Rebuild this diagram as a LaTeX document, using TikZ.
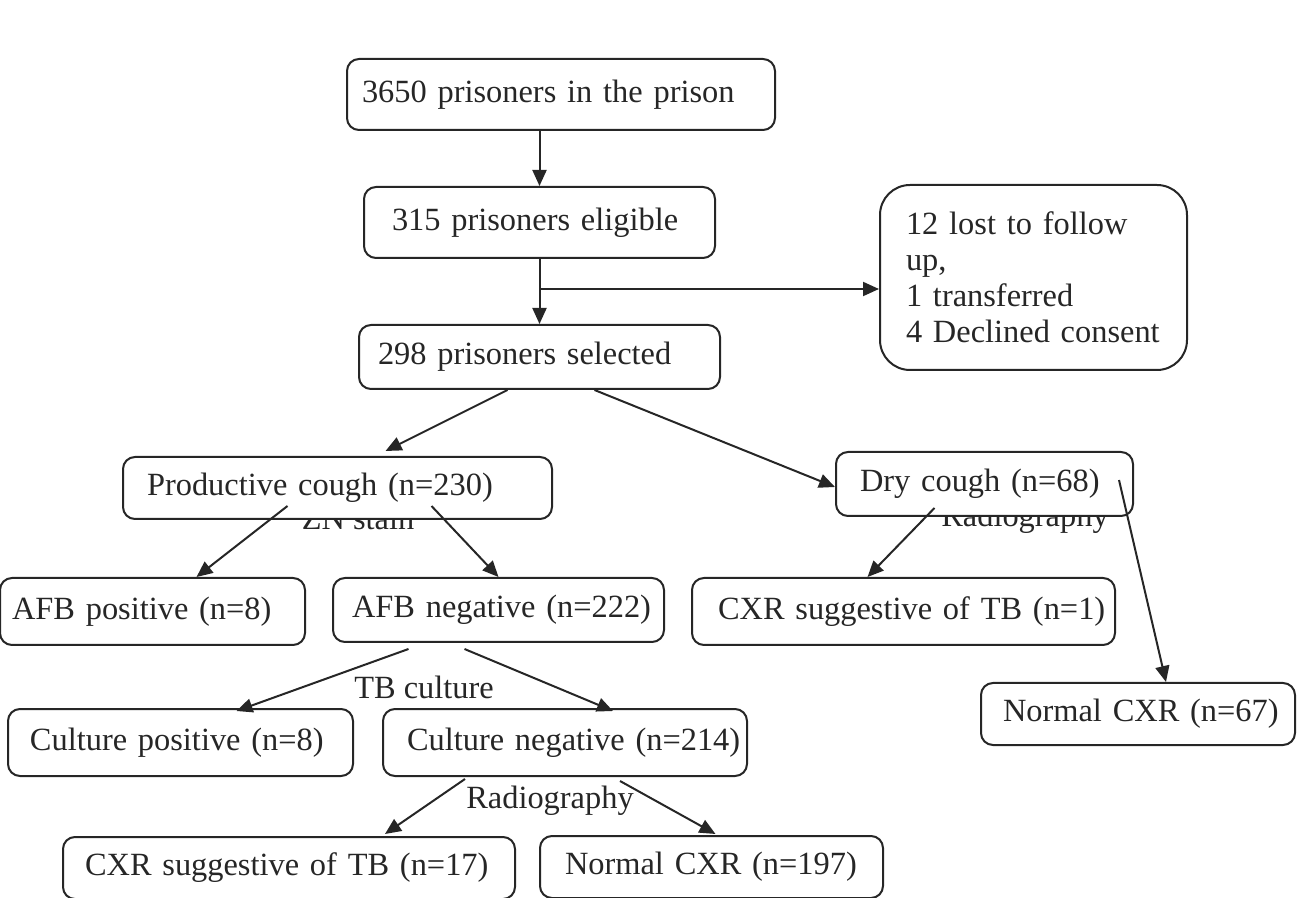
\documentclass[tikz,border=0pt]{standalone}
\usepackage{fontspec}
\setmainfont{Liberation Serif}
\usetikzlibrary{arrows.meta}
\definecolor{inkgray}{HTML}{262626}
\tikzset{
  flowbox/.style={draw=inkgray, text=inkgray, line width=1pt, rounded corners=6pt,
    fill=white, align=left, inner ysep=0pt, font=\fontsize{16.2}{18}\selectfont},
  oneline/.style={flowbox, execute at begin node={\hbox\bgroup}, execute at end node={\egroup}},
  flowarrow/.style={draw=inkgray, line width=1pt, -{Triangle[length=8pt,width=7pt]}},
  steplabel/.style={text=inkgray, inner sep=0pt, anchor=base, font=\fontsize{16.2}{18}\selectfont}
}
\begin{document}
\begin{tikzpicture}[x=0.5pt,y=-0.5pt]
  \useasboundingbox (0,0) rectangle (1297,898);
  % test labels (partly hidden behind the boxes)
  \node[steplabel] (znlab) at (358,530) {ZN stain};
  \node[steplabel] (radlabdry) at (1025,527) {Radiography};
  \node[steplabel] (culturelab) at (424,698) {TB culture};
  \node[steplabel] (radlabneg) at (550,808) {Radiography};
  % top of the flow
  \node[oneline, inner xsep=7.5pt, text width=199pt, minimum height=35.5pt] (total) at (561,94.5) {3650 prisoners in the prison};
  \node[oneline, inner xsep=14pt, text width=147.5pt, minimum height=35.5pt] (eligible) at (539.5,222.5) {315 prisoners eligible};
  \node[oneline, inner xsep=9.5pt, text width=161.5pt, minimum height=32pt] (selected) at (539.5,357) {298 prisoners selected};
  \node[flowbox, rounded corners=15pt, inner xsep=13pt, text width=127.5pt, minimum height=92.5pt] (excluded) at (1033.5,277.5) {12 lost to follow\\up,\\1 transferred\\4 Declined consent};
  % cough type
  \node[oneline, inner xsep=12pt, text width=190.5pt, minimum height=31pt] (productive) at (337.5,488) {Productive cough (n=230)};
  \node[oneline, inner xsep=12pt, text width=124.5pt, minimum height=32pt] (dry) at (984.5,484) {Dry cough (n=68)};
  % smear and dry cough results
  \node[oneline, inner xsep=6pt, text width=140.5pt, minimum height=33.5pt] (afbpos) at (152.5,611.5) {AFB positive (n=8)};
  \node[oneline, inner xsep=9.5pt, text width=146.5pt, minimum height=32pt] (afbneg) at (498.5,610) {AFB negative (n=222)};
  \node[oneline, inner xsep=13pt, text width=185.5pt, minimum height=33.5pt] (drycxrtb) at (903.5,611.5) {CXR suggestive of TB (n=1)};
  \node[oneline, inner xsep=11pt, text width=135pt, minimum height=31pt] (drynormal) at (1138,714) {Normal CXR (n=67)};
  % culture results
  \node[oneline, inner xsep=11pt, text width=150.5pt, minimum height=33.5pt] (culpos) at (180.5,742.5) {Culture positive (n=8)};
  \node[oneline, inner xsep=12pt, text width=158pt, minimum height=33.5pt] (culneg) at (565,742.5) {Culture negative (n=214)};
  % radiography of culture negatives
  \node[oneline, inner xsep=11pt, text width=204pt, minimum height=31pt] (negcxrtb) at (289,868) {CXR suggestive of TB (n=17)};
  \node[oneline, inner xsep=12.5pt, text width=146.5pt, minimum height=31pt] (negnormal) at (711.5,867) {Normal CXR (n=197)};
  % connectors
  \draw[flowarrow] (total.south -| eligible.north) -- (eligible.north);
  \draw[flowarrow] (eligible.south) -- (selected.north);
  \coordinate (split) at ([yshift=-15pt]eligible.south);
  \draw[flowarrow] (split) -- (split -| excluded.west);
  \draw[flowarrow] ([xshift=-16pt]selected.south) -- ([xshift=24pt,yshift=2.5pt]productive.north);
  \draw[flowarrow] ([xshift=27.5pt]selected.south) -- ([yshift=-1.5pt]dry.west);
  \draw[flowarrow] ([xshift=-25pt,yshift=7pt]productive.south) -- ([xshift=22pt]afbpos.north);
  \draw[flowarrow] ([xshift=47pt,yshift=7pt]productive.south) -- (afbneg.north);
  \draw[flowarrow] ([xshift=-25pt,yshift=4.5pt]dry.south) -- ([xshift=-18pt]drycxrtb.north);
  \draw[flowarrow] ([xshift=-7.5pt,yshift=2pt]dry.east) -- ([xshift=14pt]drynormal.north);
  \draw[flowarrow] ([xshift=-45pt,yshift=-3pt]afbneg.south) -- ([xshift=28pt,yshift=-1.5pt]culpos.north);
  \draw[flowarrow] ([xshift=-17pt,yshift=-3pt]afbneg.south) -- ([xshift=24pt,yshift=-1.5pt]culneg.north);
  \draw[flowarrow] ([xshift=-50pt,yshift=-1pt]culneg.south) -- ([xshift=48pt,yshift=1pt]negcxrtb.north);
  \draw[flowarrow] ([xshift=27.5pt,yshift=-2pt]culneg.south) -- ([xshift=2pt,yshift=0.5pt]negnormal.north);
\end{tikzpicture}
\end{document}
